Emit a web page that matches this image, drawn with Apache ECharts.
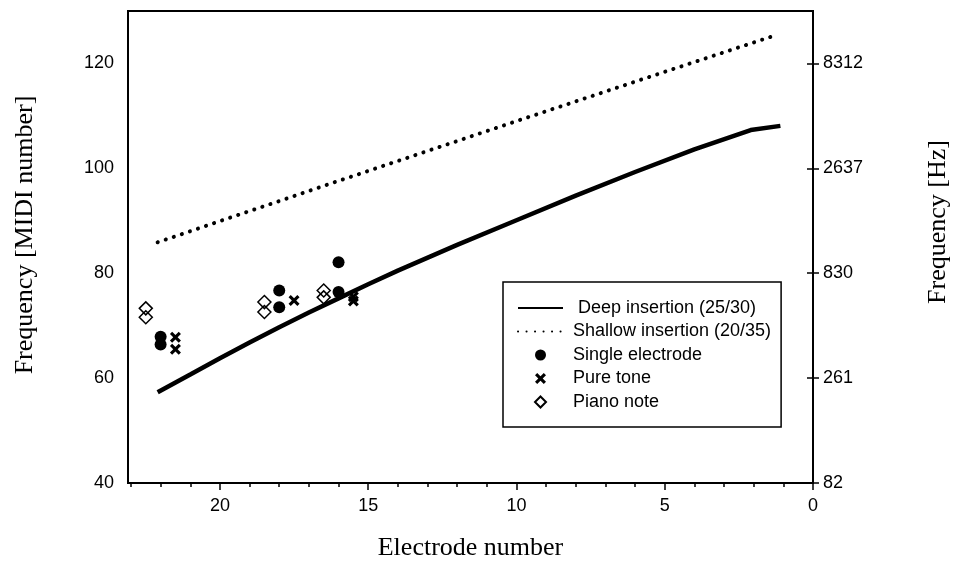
<!DOCTYPE html>
<html><head><meta charset="utf-8">
<script src="https://cdn.jsdelivr.net/npm/echarts@6/dist/echarts.min.js"></script>
<style>html,body{margin:0;padding:0;background:#fff}#c{width:956px;height:564px}</style>
</head><body><div id="c"></div>
<script>
// ---- data ----
const deepElectrode = [22.1, 21, 20, 19, 18, 17, 16, 15, 14, 12, 10, 8, 6, 4, 2.1, 1.1];
const deepMidi      = [57.3, 60.7, 63.8, 66.8, 69.7, 72.5, 75.2, 77.9, 80.5, 85.4, 90.1, 94.8, 99.3, 103.6, 107.3, 108.1];
const shallowElectrode = [22.1, 16, 10, 5, 1.3];
const shallowMidi      = [85.9, 97.6, 109, 118.4, 125.3];
const singleElectrode = [22, 22, 18, 18, 16, 16];
const singleMidi      = [67.9, 66.4, 76.7, 73.5, 82.1, 76.4];
const pureElectrode = [21.5, 21.5, 17.5, 15.5, 15.5];
const pureMidi      = [67.8, 65.5, 74.8, 75.5, 74.7];
const pianoElectrode = [22.5, 22.5, 18.5, 18.5, 16.5, 16.5];
const pianoMidi      = [73.3, 71.6, 74.5, 72.6, 76.7, 75.4];
const midiTicks = [40, 60, 80, 100, 120];
const hzLabels  = ['82', '261', '830', '2637', '8312'];
const electrodeMajorTicks = [0, 5, 10, 15, 20];
const electrodeMinorTicks = [1, 2, 3, 4, 6, 7, 8, 9, 11, 12, 13, 14, 16, 17, 18, 19, 21, 22, 23];
const seriesNames = ['Deep insertion (25/30)', 'Shallow insertion (20/35)', 'Single electrode', 'Pure tone', 'Piano note'];

const zip = (xs, ys) => xs.map((x, i) => [x, ys[i]]);
const SANS = 'Liberation Sans, Arial, sans-serif';
const SERIF = 'Liberation Serif, Times New Roman, serif';
const axisLineStyle = {color: '#000', width: 2};
const crossPath = 'path://M2,0 L5,3 L8,0 L10,2 L7,5 L10,8 L8,10 L5,7 L2,10 L0,8 L3,5 L0,2 Z';
const diamondPath = 'path://M5,0 L10,5 L5,10 L0,5 Z';
const hiddenMarker = {color: 'rgba(0,0,0,0)', opacity: 0, borderWidth: 0};

const chart = echarts.init(document.getElementById('c'), null, {renderer: 'canvas'});
chart.setOption({
  animation: false,
  backgroundColor: '#fff',
  grid: {left: 128, right: 143, top: 11, bottom: 81, show: true, borderColor: '#000', borderWidth: 2,
         containLabel: false, outerBoundsMode: 'none'},
  legend: {
    orient: 'vertical', left: 503, top: 282,
    padding: [17, 10, 16, 14],
    itemWidth: 45, itemHeight: 11, itemGap: 5.5,
    borderColor: '#000', borderWidth: 1.5, backgroundColor: '#fff',
    selectedMode: false,
    textStyle: {fontSize: 18, fontFamily: SANS, color: '#000', padding: [0, 0, 0, 5]},
    formatter: n => n === seriesNames[0] ? ' ' + n : n,
    data: [
      {name: seriesNames[0], itemStyle: hiddenMarker},
      {name: seriesNames[1], itemStyle: hiddenMarker},
      {name: seriesNames[2]},
      {name: seriesNames[3]},
      {name: seriesNames[4]}
    ]
  },
  xAxis: [
    {
      type: 'value', min: 0, max: 23.1, inverse: true, position: 'bottom',
      axisLine: {lineStyle: axisLineStyle},
      axisTick: {customValues: electrodeMajorTicks, length: 7, lineStyle: {color: '#000', width: 1.5}},
      axisLabel: {customValues: electrodeMajorTicks, margin: 14, fontSize: 18, fontFamily: SANS, color: '#000'},
      splitLine: {show: false},
      name: 'Electrode number', nameLocation: 'middle', nameGap: 52,
      nameTextStyle: {fontFamily: SERIF, fontSize: 26, color: '#000'}
    },
    {
      type: 'value', min: 0, max: 23.1, inverse: true, position: 'bottom',
      axisLine: {show: false},
      axisTick: {customValues: electrodeMinorTicks, length: 4, lineStyle: {color: '#000', width: 1.5}},
      axisLabel: {show: false},
      splitLine: {show: false}
    }
  ],
  yAxis: [
    {
      type: 'value', min: 40, max: 130, position: 'left',
      axisLine: {show: true, lineStyle: axisLineStyle},
      axisTick: {show: true, customValues: midiTicks, length: 6, lineStyle: {color: '#000', width: 1.5}},
      axisLabel: {customValues: midiTicks, margin: 14, fontSize: 18, fontFamily: SANS, color: '#000'},
      splitLine: {show: false},
      name: 'Frequency [MIDI number]', nameLocation: 'middle', nameGap: 90, nameRotate: 90,
      nameTextStyle: {fontFamily: SERIF, fontSize: 26, color: '#000', padding: [0, 0, 0, 24]}
    },
    {
      type: 'value', min: 40, max: 130, position: 'right',
      axisLine: {show: true, lineStyle: axisLineStyle},
      axisTick: {show: true, inside: false, customValues: midiTicks, length: 6, lineStyle: {color: '#000', width: 1.5}},
      axisLabel: {customValues: midiTicks, margin: 10, fontSize: 18, fontFamily: SANS, color: '#000',
        formatter: v => hzLabels[midiTicks.indexOf(v)]},
      splitLine: {show: false},
      name: 'Frequency [Hz]', nameLocation: 'middle', nameGap: 112, nameRotate: 90,
      nameTextStyle: {fontFamily: SERIF, fontSize: 26, color: '#000', padding: [0, 0, 0, 50]}
    }
  ],
  series: [
    {
      name: seriesNames[0], type: 'line', symbol: 'none', xAxisIndex: 0, yAxisIndex: 0,
      data: zip(deepElectrode, deepMidi),
      lineStyle: {color: '#000', width: 4.5}, itemStyle: {color: '#000'}
    },
    {
      name: seriesNames[1], type: 'line', symbol: 'none', xAxisIndex: 0, yAxisIndex: 0,
      data: zip(shallowElectrode, shallowMidi),
      lineStyle: {color: '#000', width: 4, type: [0.1, 8.4], cap: 'round'}, itemStyle: {color: '#000'}
    },
    {
      name: seriesNames[2], type: 'scatter', symbol: 'circle', symbolSize: 12,
      data: zip(singleElectrode, singleMidi), itemStyle: {color: '#000', opacity: 1}
    },
    {
      name: seriesNames[3], type: 'scatter', symbol: crossPath, symbolSize: 11,
      data: zip(pureElectrode, pureMidi), itemStyle: {color: '#000', opacity: 1}
    },
    {
      name: seriesNames[4], type: 'scatter', symbol: diamondPath, symbolSize: 13,
      data: zip(pianoElectrode, pianoMidi),
      itemStyle: {color: 'rgba(255,255,255,0)', borderColor: '#000', borderWidth: 1.5, opacity: 1}
    }
  ]
});
</script></body></html>
